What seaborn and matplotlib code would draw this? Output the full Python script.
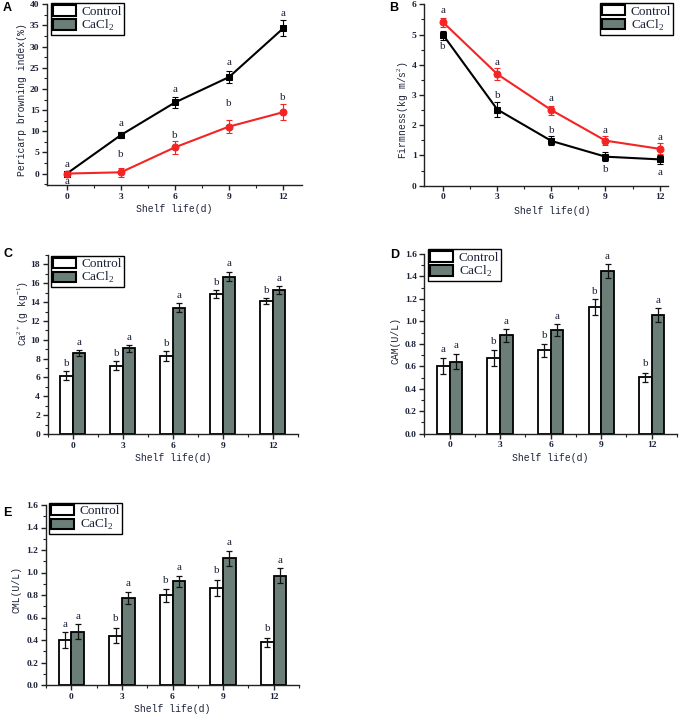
import numpy as np
import pandas as pd
import matplotlib
matplotlib.use("Agg")
import matplotlib.pyplot as plt
from matplotlib.patches import Patch
from matplotlib.ticker import MultipleLocator, FormatStrFormatter
import seaborn as sns

# ---------------- data ----------------
day_labels = ["0", "3", "6", "9", "12"]
day_values = [0, 3, 6, 9, 12]
groups = ["Control", "CaCl2"]

# A: pericarp browning index (%)
pbi_ctrl = [0.0, 9.1, 16.8, 22.8, 34.3]
pbi_ctrl_err = [0.3, 0.8, 1.3, 1.5, 1.9]
pbi_ca = [0.0, 0.3, 6.2, 11.1, 14.5]
pbi_ca_err = [0.3, 1.0, 1.5, 1.6, 1.9]
pbi_ctrl_let = ["a", "a", "a", "a", "a"]
pbi_ctrl_let_y = [2.2, 11.9, 19.9, 26.3, 37.9]
pbi_ca_let = ["a", "b", "b", "b", "b"]
pbi_ca_let_y = [-1.8, 4.6, 9.0, 16.5, 18.0]

# B: firmness
firm_ctrl = [4.98, 2.52, 1.48, 0.96, 0.87]
firm_ctrl_err = [0.15, 0.25, 0.15, 0.15, 0.15]
firm_ca = [5.40, 3.69, 2.50, 1.49, 1.22]
firm_ca_err = [0.15, 0.20, 0.15, 0.15, 0.18]
firm_ctrl_let = ["b", "b", "b", "b", "a"]
firm_ctrl_let_y = [4.6, 2.97, 1.84, 0.52, 0.44]
firm_ca_let = ["a", "a", "a", "a", "a"]
firm_ca_let_y = [5.81, 4.07, 2.89, 1.81, 1.59]

# C: Ca2+
ca_ctrl = [6.2, 7.27, 8.3, 14.86, 14.1]
ca_ctrl_err = [0.5, 0.45, 0.5, 0.45, 0.35]
ca_ca = [8.6, 9.1, 13.4, 16.7, 15.3]
ca_ca_err = [0.35, 0.4, 0.5, 0.5, 0.4]
ca_ctrl_let = ["b", "b", "b", "b", "b"]
ca_ctrl_let_y = [7.5, 8.5, 9.65, 16.1, 15.25]
ca_ca_let = ["a", "a", "a", "a", "a"]
ca_ca_let_y = [9.7, 10.25, 14.75, 18.05, 16.5]

# D: CAM
cam_ctrl = [0.605, 0.677, 0.742, 1.128, 0.504]
cam_ctrl_err = [0.07, 0.07, 0.06, 0.07, 0.04]
cam_ca = [0.641, 0.875, 0.923, 1.448, 1.056]
cam_ca_err = [0.065, 0.055, 0.05, 0.065, 0.06]
cam_ctrl_let = ["a", "b", "b", "b", "b"]
cam_ctrl_let_y = [0.754, 0.82, 0.875, 1.267, 0.626]
cam_ca_let = ["a", "a", "a", "a", "a"]
cam_ca_let_y = [0.783, 1.003, 1.045, 1.576, 1.184]

# E: CML
cml_ctrl = [0.40, 0.438, 0.797, 0.862, 0.382]
cml_ctrl_err = [0.07, 0.065, 0.06, 0.07, 0.04]
cml_ca = [0.474, 0.773, 0.921, 1.126, 0.972]
cml_ca_err = [0.065, 0.05, 0.05, 0.065, 0.065]
cml_ctrl_let = ["a", "b", "b", "b", "b"]
cml_ctrl_let_y = [0.542, 0.593, 0.933, 1.016, 0.504]
cml_ca_let = ["a", "a", "a", "a", "a"]
cml_ca_let_y = [0.613, 0.90, 1.046, 1.265, 1.111]

# ---------------- style ----------------
sns.set_style("ticks")
TXT = "#1c2238"
GRAY = "#6b7f78"
RED = "#f22424"
plt.rcParams["font.family"] = ["Liberation Serif", "DejaVu Serif"]
plt.rcParams["mathtext.fontset"] = "custom"
plt.rcParams["mathtext.rm"] = "Liberation Serif"
plt.rcParams["axes.edgecolor"] = "#222222"
plt.rcParams["axes.linewidth"] = 1.0

W, H = 682, 716
fig = plt.figure(figsize=(W / 100, H / 100), dpi=100)


def px_axes(l, t, r, b):
    return fig.add_axes([l / W, 1 - b / H, (r - l) / W, (b - t) / H])


def style_axis(ax, xlabel, ylabel, ymaj, ymin, xmin_step, ylab_pos, xlab_pos, yfmt=None):
    sns.despine(ax=ax)
    ax.yaxis.set_major_locator(MultipleLocator(ymaj))
    ax.yaxis.set_minor_locator(MultipleLocator(ymin))
    ax.xaxis.set_minor_locator(MultipleLocator(xmin_step))
    if yfmt:
        ax.yaxis.set_major_formatter(FormatStrFormatter(yfmt))
    ax.tick_params(which="major", direction="out", length=3.5, width=1.0,
                   labelsize=6.8, colors="#222222", labelcolor=TXT, pad=2)
    ax.tick_params(which="minor", direction="out", length=2, width=0.8, colors="#222222")
    for lab in ax.get_xticklabels() + ax.get_yticklabels():
        lab.set_fontweight("bold")
    ax.set_xlabel(xlabel, family=["Liberation Mono"], fontsize=7.0, color=TXT, va="center")
    ax.set_ylabel(ylabel, family=["Liberation Mono"], fontsize=7.0, color=TXT, va="center")
    ax.xaxis.set_label_coords(*xlab_pos)
    ax.yaxis.set_label_coords(*ylab_pos)


def add_legend(ax, x, y):
    handles = [Patch(facecolor="white", edgecolor="black", linewidth=1.5),
               Patch(facecolor=GRAY, edgecolor="black", linewidth=1.5)]
    leg = ax.legend(handles, ["Control", "CaCl$_2$"], loc="upper left",
                    bbox_to_anchor=(x / W, 1 - y / H), bbox_transform=fig.transFigure,
                    fontsize=9.5, handlelength=1.75, handleheight=0.82, labelspacing=0.0,
                    borderpad=0.15, handletextpad=0.4, borderaxespad=0, fancybox=False,
                    frameon=True, framealpha=1)
    leg.get_frame().set_edgecolor("black")
    leg.get_frame().set_linewidth(1.0)
    for t in leg.get_texts():
        t.set_color(TXT)


def line_panel(ax, ctrl, ctrl_err, ca, ca_err, lets):
    for vals, errs, col, mk in [(ctrl, ctrl_err, "black", "s"), (ca, ca_err, RED, "o")]:
        df = pd.DataFrame({"day": day_values, "val": vals})
        sns.lineplot(data=df, x="day", y="val", ax=ax, color=col, marker=mk,
                     markersize=5, markeredgecolor=col, linewidth=1.5, legend=False)
        ax.errorbar(day_values, vals, yerr=errs, fmt="none", ecolor=col,
                    elinewidth=0.8, capsize=2.2, capthick=0.8)
    for letters, ys in lets:
        for x, l, y in zip(day_values, letters, ys):
            ax.text(x, y, l, ha="center", va="center", fontsize=8, color=TXT)
    ax.set_xticks(day_values)
    ax.set_xticklabels(day_labels)


def bar_panel(ax, ctrl, ctrl_err, ca, ca_err, lets):
    df = pd.DataFrame({
        "day": day_labels * 2,
        "group": [groups[0]] * 5 + [groups[1]] * 5,
        "val": ctrl + ca,
    })
    sns.barplot(data=df, x="day", y="val", hue="group", order=day_labels,
                hue_order=groups, palette={"Control": "white", "CaCl2": GRAY},
                width=0.5, edgecolor="black", linewidth=1.3, errorbar=None,
                legend=False, ax=ax, saturation=1)
    errs_all = [ctrl_err, ca_err]
    bar_conts = list(ax.containers)[:2]
    for ci, cont in enumerate(bar_conts):
        xs = [b.get_x() + b.get_width() / 2 for b in cont.patches]
        hs = [b.get_height() for b in cont.patches]
        ax.errorbar(xs, hs, yerr=errs_all[ci], fmt="none", ecolor="#111111",
                    elinewidth=0.9, capsize=2.5, capthick=0.9)
        letters, ys = lets[ci]
        for x, l, y in zip(xs, letters, ys):
            ax.text(x, y, l, ha="center", va="center", fontsize=8, color=TXT)
    ax.set_xlim(-0.5, 4.5)


# A
axA = px_axes(47, 4.3, 302, 185)
line_panel(axA, pbi_ctrl, pbi_ctrl_err, pbi_ca, pbi_ca_err,
           [(pbi_ctrl_let, pbi_ctrl_let_y), (pbi_ca_let, pbi_ca_let_y)])
axA.set_xlim(-1.1, 13.05)
axA.set_ylim(-2.7, 40)
style_axis(axA, "Shelf life(d)", "Pericarp browning index(%)", 5, 2.5, 1.5,
           ((22.5 - 47) / 255, 0.47), (0.5, -0.133))
add_legend(axA, 51, 3.3)

# B
axB = px_axes(424.3, 4.3, 667.7, 185.7)
line_panel(axB, firm_ctrl, firm_ctrl_err, firm_ca, firm_ca_err,
           [(firm_ctrl_let, firm_ctrl_let_y), (firm_ca_let, firm_ca_let_y)])
axB.set_xlim(-1.05, 12.45)
axB.set_ylim(0, 6)
style_axis(axB, "Shelf life(d)", "Firmness(kg m/s$^2$)", 1, 0.5, 1.5,
           ((403.5 - 424.3) / 243.4, 0.417), (0.525, -0.138))
add_legend(axB, 600.3, 3)

# C
axC = px_axes(47.7, 255, 297.7, 434)
bar_panel(axC, ca_ctrl, ca_ctrl_err, ca_ca, ca_ca_err,
          [(ca_ctrl_let, ca_ctrl_let_y), (ca_ca_let, ca_ca_let_y)])
axC.set_ylim(0, 19)
style_axis(axC, "Shelf life(d)", "Ca$^{2+}$(g kg$^{-1}$)", 2, 1, 0.5,
           ((23.5 - 47.7) / 250, 0.672), (0.5, -0.134))
add_legend(axC, 51, 255.7)

# D
axD = px_axes(424.3, 254, 677, 433.7)
bar_panel(axD, cam_ctrl, cam_ctrl_err, cam_ca, cam_ca_err,
          [(cam_ctrl_let, cam_ctrl_let_y), (cam_ca_let, cam_ca_let_y)])
axD.set_ylim(0, 1.6)
style_axis(axD, "Shelf life(d)", "CAM(U/L)", 0.2, 0.1, 0.5,
           ((395.5 - 424.3) / 252.7, 0.521), (0.5, -0.134), "%.1f")
add_legend(axD, 428.3, 249.3)

# E
axE = px_axes(46, 505, 299, 685)
bar_panel(axE, cml_ctrl, cml_ctrl_err, cml_ca, cml_ca_err,
          [(cml_ctrl_let, cml_ctrl_let_y), (cml_ca_let, cml_ca_let_y)])
axE.set_ylim(0, 1.6)
style_axis(axE, "Shelf life(d)", "CML(U/L)", 0.2, 0.1, 0.5,
           ((17 - 46) / 253, 0.528), (0.5, -0.133), "%.1f")
add_legend(axE, 49.3, 502.7)

# panel letters
for lab, x, y in [("A", 3, 8), ("B", 389, 8), ("C", 3, 254), ("D", 390, 255), ("E", 3, 513)]:
    fig.text(x / W, 1 - y / H, lab, fontsize=9, fontweight="bold",
             family=["Liberation Sans", "DejaVu Sans"], va="center", ha="left", color="black")

fig.savefig("out.png", dpi=100)
